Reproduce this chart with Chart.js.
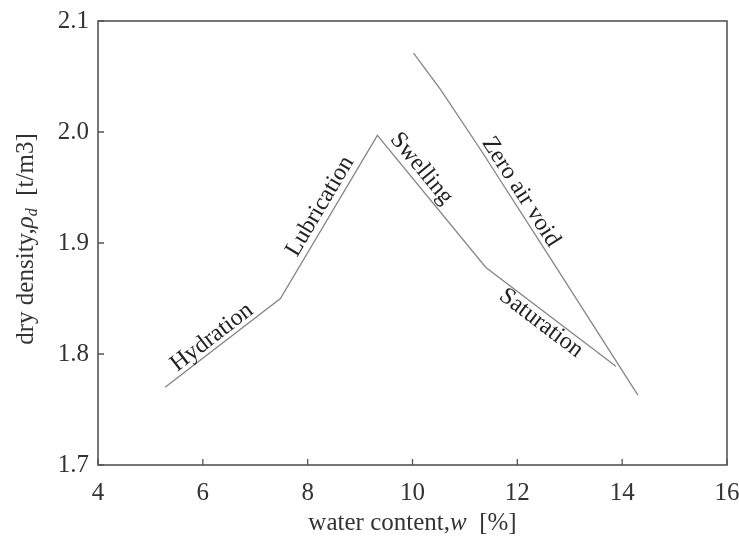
<!DOCTYPE html>
<html>
<head>
<meta charset="utf-8">
<script src="https://cdn.jsdelivr.net/npm/chart.js@4"></script>
<style>
  html, body { margin: 0; padding: 0; background: #fff; }
  #wrap { width: 739px; height: 548px; }
</style>
</head>
<body>
<div id="wrap"><canvas id="c" width="739" height="548"></canvas></div>
<script>
// Compaction curve: water content [%] vs dry density [t/m3]
const compactionW   = [5.28, 7.48, 9.33, 11.40, 13.88];
const compactionRho = [1.770, 1.850, 1.997, 1.878, 1.789];

// Zero air void line
const zeroAirVoidW   = [10.02, 10.54, 11.30, 12.58, 13.84, 14.30];
const zeroAirVoidRho = [2.071, 2.038, 1.984, 1.890, 1.797, 1.763];

// Axis ticks
const xTicks = [4, 6, 8, 10, 12, 14, 16];
const yTicks = [1.7, 1.8, 1.9, 2.0, 2.1];

// Phase names written along the curves (water content where each name sits)
const compactionLabels   = ['Hydration', 'Lubrication', 'Swelling', 'Saturation'];
const compactionLabelAtW = [6.30, 8.45, 9.98, 12.58];
const zeroAirVoidLabel   = 'Zero air void';
const zeroAirVoidLabelAtW = 11.89;

// distance of each name from its line, px (negative: above the line)
const compactionLabelGap = [-11, -13, -13, 11];
const zeroAirVoidLabelGap = -11;

const SERIF = '"Liberation Serif", "Times New Roman", serif';
const INK = '#333';

const toPoints = (xs, ys) => xs.map((x, i) => ({ x, y: ys[i] }));

// Text laid along a dataset's polyline at a given x value
function drawAlong(chart, dsIndex, text, atX, gap) {
  const pts = chart.getDatasetMeta(dsIndex).data;
  const data = chart.data.datasets[dsIndex].data;
  let i = 0;
  while (i < data.length - 2 && data[i + 1].x < atX) i++;
  const a = pts[i], b = pts[i + 1];
  const t = (atX - data[i].x) / (data[i + 1].x - data[i].x);
  const px = a.x + (b.x - a.x) * t;
  const py = a.y + (b.y - a.y) * t;
  const ang = Math.atan2(b.y - a.y, b.x - a.x);
  const ctx = chart.ctx;
  ctx.save();
  ctx.translate(px, py);
  ctx.rotate(ang);
  ctx.font = '24px ' + SERIF;
  ctx.fillStyle = '#222';
  ctx.textAlign = 'center';
  ctx.textBaseline = 'middle';
  ctx.fillText(text, 0, gap);
  ctx.restore();
}

// Draw a run of differently styled text pieces, centred on (0,0)
function drawRuns(ctx, runs) {
  let total = 0;
  runs.forEach(r => { ctx.font = r.font; r.w = ctx.measureText(r.text).width; total += r.w; });
  let x = -total / 2;
  runs.forEach(r => {
    ctx.font = r.font;
    ctx.fillText(r.text, x, r.dy || 0);
    x += r.w;
  });
}

const framePlugin = {
  id: 'frame',
  afterDraw(chart) {
    const { ctx, chartArea: ca, scales } = chart;
    ctx.save();
    // box
    ctx.strokeStyle = '#555';
    ctx.lineWidth = 1.6;
    ctx.strokeRect(ca.left, ca.top, ca.right - ca.left, ca.bottom - ca.top);
    // inward tick marks
    ctx.lineWidth = 1.3;
    ctx.beginPath();
    xTicks.forEach(v => {
      const x = scales.x.getPixelForValue(v);
      ctx.moveTo(x, ca.bottom);
      ctx.lineTo(x, ca.bottom - 6);
    });
    yTicks.forEach(v => {
      const y = scales.y.getPixelForValue(v);
      ctx.moveTo(ca.left, y);
      ctx.lineTo(ca.left + 6, y);
    });
    ctx.stroke();

    // curve names
    compactionLabels.forEach((txt, i) =>
      drawAlong(chart, 0, txt, compactionLabelAtW[i], compactionLabelGap[i]));
    drawAlong(chart, 1, zeroAirVoidLabel, zeroAirVoidLabelAtW, zeroAirVoidLabelGap);

    // axis titles
    ctx.fillStyle = INK;
    ctx.textBaseline = 'alphabetic';
    ctx.textAlign = 'left';
    const base = '25px ' + SERIF;
    const ital = 'italic 25px ' + SERIF;
    const sub = 'italic 16px ' + SERIF;

    ctx.save();
    ctx.translate((ca.left + ca.right) / 2, 530);
    drawRuns(ctx, [
      { text: 'water content,', font: base },
      { text: 'w', font: ital },
      { text: '  [%]', font: base }
    ]);
    ctx.restore();

    ctx.save();
    ctx.translate(33, (ca.top + ca.bottom) / 2 - 4);
    ctx.rotate(-Math.PI / 2);
    drawRuns(ctx, [
      { text: 'dry density,', font: base },
      { text: 'ρ', font: ital },
      { text: 'd', font: sub, dy: 4 },
      { text: '  [t/m3]', font: base }
    ]);
    ctx.restore();
    ctx.restore();
  }
};

new Chart(document.getElementById('c'), {
  type: 'scatter',
  data: {
    datasets: [
      {
        label: 'Compaction curve',
        data: toPoints(compactionW, compactionRho),
        showLine: true,
        borderColor: '#858585',
        borderWidth: 1.3,
        pointRadius: 0,
        tension: 0
      },
      {
        label: 'Zero air void',
        data: toPoints(zeroAirVoidW, zeroAirVoidRho),
        showLine: true,
        borderColor: '#858585',
        borderWidth: 1.3,
        pointRadius: 0,
        tension: 0
      }
    ]
  },
  options: {
    responsive: false,
    animation: false,
    devicePixelRatio: 1,
    layout: { padding: { top: 21, right: 12, left: 0, bottom: 0 } },
    plugins: {
      legend: { display: false },
      tooltip: { enabled: false }
    },
    scales: {
      x: {
        type: 'linear',
        min: 4, max: 16,
        afterBuildTicks: s => { s.ticks = xTicks.map(v => ({ value: v })); },
        afterFit: s => { s.height = 83; s.paddingRight = 0; s.paddingLeft = 0; },
        grid: { display: false, drawTicks: false },
        border: { display: false },
        ticks: {
          padding: 13,
          color: INK,
          font: { family: SERIF, size: 25 },
          callback: v => String(v)
        }
      },
      y: {
        type: 'linear',
        min: 1.7, max: 2.1,
        afterBuildTicks: s => { s.ticks = yTicks.map(v => ({ value: v })); },
        afterFit: s => { s.width = 98; s.paddingTop = 0; s.paddingBottom = 0; },
        grid: { display: false, drawTicks: false },
        border: { display: false },
        ticks: {
          padding: 9,
          color: INK,
          font: { family: SERIF, size: 25 },
          callback: v => v.toFixed(1)
        }
      }
    }
  },
  plugins: [framePlugin]
});
</script>
</body>
</html>
